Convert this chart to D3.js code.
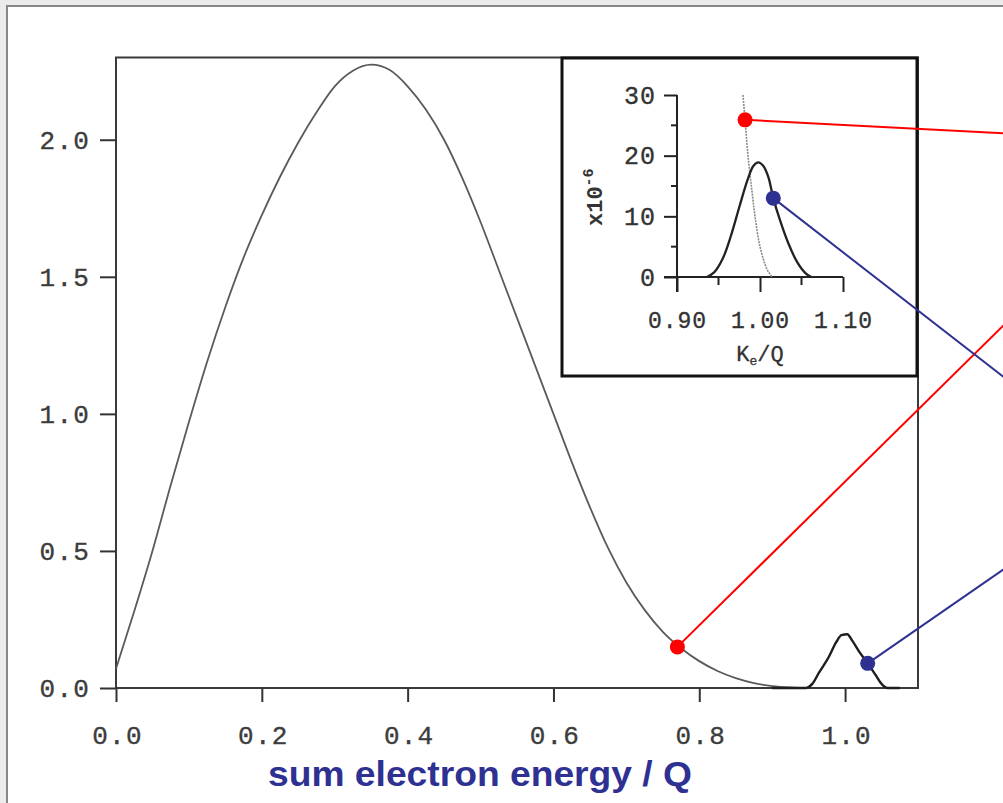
<!DOCTYPE html>
<html><head><meta charset="utf-8">
<script src="https://cdn.jsdelivr.net/npm/d3@7"></script>
<style>
html,body{margin:0;padding:0;background:#ebebeb;overflow:hidden;}
svg{display:block;}
</style></head>
<body>
<script>
// ---- data ----
// main 2-neutrino sum-energy spectrum (x = sum electron energy / Q)
const specX = [0.000,0.025,0.050,0.075,0.100,0.125,0.150,0.175,0.200,0.225,0.250,0.275,0.300,0.325,0.350,0.375,0.400,0.425,0.450,0.475,0.500,0.525,0.550,0.575,0.600,0.625,0.650,0.675,0.700,0.725,0.750,0.775,0.800,0.825,0.850,0.875,0.900,0.925,0.945];
const specY = [0.070,0.28,0.50,0.74,0.97,1.19,1.39,1.57,1.725,1.865,1.99,2.10,2.195,2.252,2.274,2.255,2.195,2.11,2.00,1.86,1.70,1.525,1.35,1.175,1.00,0.825,0.66,0.51,0.385,0.285,0.205,0.145,0.098,0.062,0.036,0.018,0.007,0.002,0.000];
// neutrinoless peak in main panel
const peakX = [0.900,0.946,0.955,0.964,0.978,0.988,0.995,1.003,1.010,1.020,1.031,1.042,1.050,1.058,1.075];
const peakY = [0,0,0.015,0.055,0.115,0.168,0.193,0.196,0.172,0.13,0.09,0.047,0.015,0,0];
// inset: 2nu tail (x10^-6)
const insTailX = [0.9795,0.982,0.9855,0.990,0.994,1.000,1.0084,1.0145];
const insTailY = [30,25.9,20,14.5,10,5,1.3,0];
// inset: 0nu peak (x10^-6)
const insPeakX = [0.936,0.945,0.955,0.965,0.975,0.985,0.992,0.998,1.004,1.010,1.016,1.024,1.034,1.045,1.055,1.062];
const insPeakY = [0,0.8,3.0,6.8,11.5,16.0,18.3,18.9,18.3,16.5,13.0,9.4,5.6,2.4,0.6,0];
// ticks
const mainXTicks = [0,0.2,0.4,0.6,0.8,1.0];
const mainYTicks = [0,0.5,1.0,1.5,2.0];
const insXTicks = [0.90,1.00,1.10];
const insXMinor = [0.95,1.05];
const insYTicks = [0,10,20,30];
const insYMinor = [5,15,25];
// callout markers (data coordinates)
const redMain = [0.77,0.15], blueMain = [1.031,0.09];
const redIns = [0.982,25.9], blueIns = [1.016,13.0];
const xTitle = "sum electron energy / Q";

// ---- drawing ----
const W = 1003, H = 803;
const svg = d3.select("body").append("svg").attr("width",W).attr("height",H);
svg.append("rect").attr("x",0).attr("y",0).attr("width",W).attr("height",H).attr("fill","#ebebeb");
svg.append("rect").attr("x",7).attr("y",6).attr("width",W).attr("height",H).attr("fill","#fff")
  .attr("stroke","#878787").attr("stroke-width",2);

const x = d3.scaleLinear([0,1.1],[116,918]);
const y = d3.scaleLinear([0,2.3],[688,57.5]);
const xi = d3.scaleLinear([0.9,1.1],[677,843]);
const yi = d3.scaleLinear([0,30],[277,95]);

const mono = "'Liberation Mono','Courier New',monospace";

// main frame
svg.append("path").attr("fill","none").attr("stroke","#3a3a3a").attr("stroke-width",2)
  .attr("d",`M${x(0)},${y(2.3)}H${x(1.1)}V${y(0)}H${x(0)}Z`);

// main axes
const gx = svg.append("g").attr("transform",`translate(0,${y(0)})`)
  .call(d3.axisBottom(x).tickValues(mainXTicks).tickFormat(d3.format(".1f")).tickSize(14).tickPadding(24));
const gy = svg.append("g").attr("transform",`translate(${x(0)},0)`)
  .call(d3.axisLeft(y).tickValues(mainYTicks).tickFormat(d3.format(".1f")).tickSize(16).tickPadding(10));
[gx,gy].forEach(g=>{
  g.select(".domain").remove();
  g.selectAll(".tick line").attr("stroke","#333").attr("stroke-width",2);
  g.selectAll(".tick text").attr("font-family",mono).attr("font-size",26).attr("fill","#3c3c3c")
   .attr("stroke","#3c3c3c").attr("stroke-width",0.35).attr("letter-spacing",1.2);
});
gx.selectAll(".tick text").attr("dx",1);

// main curves
const line = d3.line().x(d=>x(d[0])).y(d=>y(d[1])).curve(d3.curveMonotoneX);
svg.append("path").datum(specX.map((v,i)=>[v,specY[i]])).attr("d",line)
  .attr("fill","none").attr("stroke","#5a5a5a").attr("stroke-width",1.8);
svg.append("path").datum(peakX.map((v,i)=>[v,peakY[i]])).attr("d",line)
  .attr("fill","none").attr("stroke","#1e1e1e").attr("stroke-width",2.4);

// inset box
svg.append("rect").attr("x",562).attr("y",58).attr("width",355).attr("height",318)
  .attr("fill","#fff").attr("stroke","#111").attr("stroke-width",3);

const gxi = svg.append("g").attr("transform",`translate(0,${yi(0)})`)
  .call(d3.axisBottom(xi).tickValues(insXTicks).tickFormat(d3.format(".2f")).tickSize(15).tickPadding(20));
const gyi = svg.append("g").attr("transform",`translate(${xi(0.9)},0)`)
  .call(d3.axisLeft(yi).tickValues(insYTicks).tickFormat(d3.format("d")).tickSize(13).tickPadding(8));
[gxi,gyi].forEach(g=>{
  g.selectAll(".domain").attr("stroke","#222").attr("stroke-width",2);
  g.selectAll(".tick line").attr("stroke","#222").attr("stroke-width",2);
  g.selectAll(".tick text").attr("font-family",mono).attr("font-size",23).attr("fill","#333")
   .attr("stroke","#333").attr("stroke-width",0.35).attr("letter-spacing",1);
});
gyi.selectAll(".tick text").attr("font-size",25);
gyi.select(".domain").attr("d",`M0,${yi(30)}V${yi(0)+15}`);
gxi.select(".domain").attr("d",`M${xi(0.9)-13},0H${xi(1.1)}`);
svg.append("g").selectAll("line").data(insXMinor).join("line")
  .attr("x1",d=>xi(d)).attr("x2",d=>xi(d)).attr("y1",yi(0)).attr("y2",yi(0)+8)
  .attr("stroke","#222").attr("stroke-width",2);
svg.append("g").selectAll("line").data(insYMinor).join("line")
  .attr("x1",xi(0.9)-6).attr("x2",xi(0.9)).attr("y1",d=>yi(d)).attr("y2",d=>yi(d))
  .attr("stroke","#222").attr("stroke-width",2);

// inset labels
const yl = svg.append("text").attr("transform","translate(602,226) rotate(-90)")
  .attr("font-family",mono).attr("font-size",22).attr("font-weight","bold").attr("fill","#333");
yl.append("tspan").text("x10");
yl.append("tspan").attr("dy",-9).attr("font-size",15).text("-6");
const xl = svg.append("text").attr("x",760).attr("y",361).attr("text-anchor","middle")
  .attr("font-family",mono).attr("font-size",22).attr("fill","#333").attr("stroke","#333").attr("stroke-width",0.3);
xl.append("tspan").text("K");
xl.append("tspan").attr("dy",4).attr("font-size",13).text("e");
xl.append("tspan").attr("dy",-4).text("/Q");

// inset curves
const lineI = d3.line().x(d=>xi(d[0])).y(d=>yi(d[1])).curve(d3.curveCatmullRom.alpha(0.5));
svg.append("path").datum(insTailX.map((v,i)=>[v,insTailY[i]])).attr("d",lineI)
  .attr("fill","none").attr("stroke","#8a8a8a").attr("stroke-width",1.6).attr("stroke-dasharray","2,1");
svg.append("path").datum(insPeakX.map((v,i)=>[v,insPeakY[i]])).attr("d",lineI)
  .attr("fill","none").attr("stroke","#222").attr("stroke-width",2.3);

// title
svg.append("text").attr("x",268).attr("y",786).attr("textLength",424).attr("lengthAdjust","spacingAndGlyphs")
  .attr("font-family","'Liberation Sans Narrow','Liberation Sans',Arial,sans-serif").attr("font-weight","bold")
  .attr("font-size",35).attr("fill","#2e3192").text(xTitle);

// callouts
const RED = "#ff0000", BLUE = "#2e3192";
const callouts = [
  {p:[x(redMain[0]),y(redMain[1])], end:[1010,319], c:RED},
  {p:[xi(redIns[0]),yi(redIns[1])], end:[1010,133.5], c:RED},
  {p:[xi(blueIns[0]),yi(blueIns[1])], end:[1010,382], c:BLUE},
  {p:[x(blueMain[0]),y(blueMain[1])], end:[1010,565], c:BLUE}
];
callouts.forEach(o=>{
  svg.append("line").attr("x1",o.p[0]).attr("y1",o.p[1]).attr("x2",o.end[0]).attr("y2",o.end[1])
    .attr("stroke",o.c).attr("stroke-width",2);
  svg.append("circle").attr("cx",o.p[0]).attr("cy",o.p[1]).attr("r",7.5).attr("fill",o.c);
});
</script>
</body></html>
